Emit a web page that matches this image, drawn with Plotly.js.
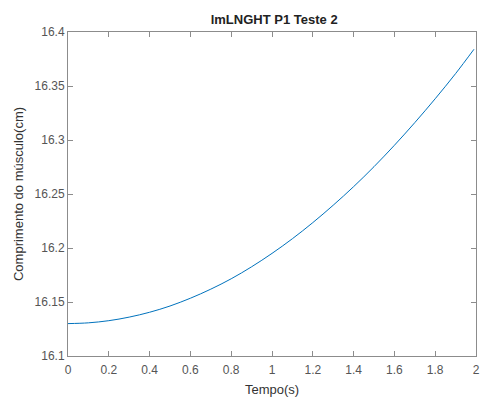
<!DOCTYPE html>
<html>
<head>
<meta charset="utf-8">
<script src="https://cdn.plot.ly/plotly-3.0.1.min.js"></script>
<style>html,body{margin:0;padding:0;background:#fff;}#chart{width:481px;height:398px;}</style>
</head>
<body>
<div id="chart"></div>
<script>
const tempo = [0, 0.1, 0.2, 0.3, 0.4, 0.5, 0.6, 0.7, 0.8, 0.9, 1.0, 1.1, 1.2, 1.3, 1.4, 1.5, 1.6, 1.7, 1.8, 1.9, 1.99];
const comprimento = [16.1300, 16.1307, 16.1327, 16.1360, 16.1405, 16.1463, 16.1535, 16.1619, 16.1715, 16.1826, 16.1950, 16.2086, 16.2235, 16.2396, 16.2568, 16.2753, 16.2951, 16.3161, 16.3382, 16.3615, 16.3840];
const xTicks = [0, 0.2, 0.4, 0.6, 0.8, 1, 1.2, 1.4, 1.6, 1.8, 2];
const yTicks = [16.1, 16.15, 16.2, 16.25, 16.3, 16.35, 16.4];

const axisCommon = {
  showgrid: false, zeroline: false, showline: true, mirror: 'ticks',
  linecolor: '#8c8c8c', linewidth: 1, ticks: 'inside', ticklen: 5,
  tickcolor: '#8c8c8c', tickwidth: 1,
  tickfont: {family: 'Liberation Sans, Arial, sans-serif', size: 12, color: '#555555'}
};
const layout = {
  width: 481, height: 398,
  margin: {l: 68, r: 5, t: 32, b: 42},
  paper_bgcolor: '#ffffff', plot_bgcolor: '#ffffff',
  showlegend: false,
  title: {text: '<b>lmLNGHT P1 Teste 2</b>', x: 0.57, xanchor: 'center', y: 0.952, yanchor: 'middle',
          font: {family: 'Liberation Sans, Arial, sans-serif', size: 13, color: '#222222'}},
  xaxis: Object.assign({}, axisCommon, {
    range: [0, 2], tickvals: xTicks, ticktext: xTicks.map(String), ticklabelstandoff: 3,
    title: {text: 'Tempo(s)', standoff: 8, font: {family: 'Liberation Sans, Arial, sans-serif', size: 13, color: '#333333'}}
  }),
  yaxis: Object.assign({}, axisCommon, {
    range: [16.1, 16.4], tickvals: yTicks, ticktext: yTicks.map(String),
    title: {text: 'Comprimento do músculo(cm)', standoff: 8, font: {family: 'Liberation Sans, Arial, sans-serif', size: 13, color: '#333333'}}
  })
};
Plotly.newPlot('chart', [{
  x: tempo, y: comprimento, type: 'scatter', mode: 'lines',
  line: {color: '#0072BD', width: 1, shape: 'spline', smoothing: 1}
}], layout, {displayModeBar: false, staticPlot: true});
</script>
</body>
</html>
